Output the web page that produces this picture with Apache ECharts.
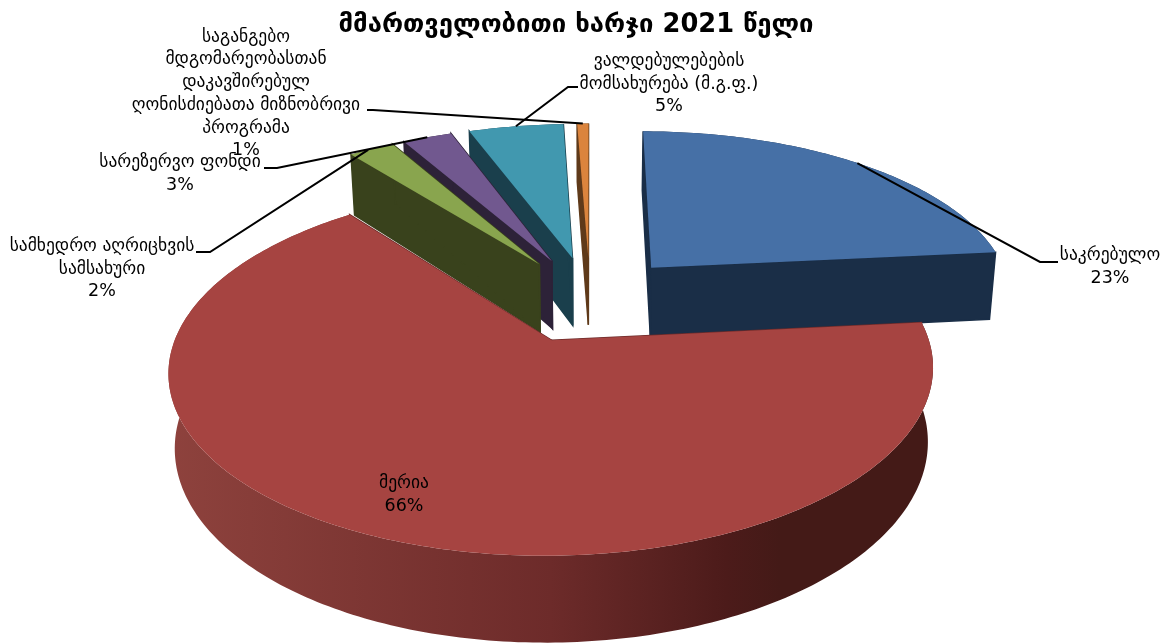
<!DOCTYPE html>
<html><head><meta charset="utf-8">
<style>html,body{margin:0;padding:0;background:#fff}#c{width:1167px;height:644px}</style>
<script src="https://cdn.jsdelivr.net/npm/echarts@6/dist/echarts.min.js"></script>
</head><body><div id="c"></div>
<script>
const categories = ['საკრებულო','მერია','სამხედრო აღრიცხვის\nსამსახური','სარეზერვო ფონდი','ვალდებულებების\nმომსახურება (მ.გ.ფ.)','საგანგებო\nმდგომარეობასთან\nდაკავშირებულ\nღონისძიებათა მიზნობრივი\nპროგრამა'];
const values = [23.4,66.0,2.4,2.6,5.0,0.6];
const percentLabels = ['23%','66%','2%','3%','5%','1%'];
const topColors = ['#4670a6','#a64441','#89a54e','#71588f','#4198af','#db843d'];
const wallColors = ['#1a2e47','#6d2b2a','#39421c','#2d2238','#1a3f4c','#5f3a1a'];
const depthRank = [5,6,4,3,2,1];            // painter's order of each slice
const labelAt = [[1110,267],[404,495],[102,269],[180,174],[669,84],[246,94]];
const leaderKnee = [[[1058,262],[1040,262]],null,[[196,252],[210,252]],[[264,168],[277,168]],[[578,87],[568,87]],[[367,110],[373,110]]];
const leaderAlong = [0.5,0,0.42,0.5,0.5,0.5];   // where on the outer arc each leader lands

const VIEW = {cx:590, cy:299, f:2310, t:0.46, R:363, explode:94, h:70, k:0.985};
const total = values.reduce((a,b)=>a+b,0);
function project(X,Z,low){
  const s = VIEW.f/(VIEW.f-Z);
  return [VIEW.cx + X*s*(low?VIEW.k:1), VIEW.cy + Z*VIEW.t*s + (low?VIEW.h*s:0)];
}
function sliceGeom(i){
  let a0=0; for(let j=0;j<i;j++) a0+=values[j]/total*2*Math.PI;
  const a1=a0+values[i]/total*2*Math.PI, mid=(a0+a1)/2;
  const ox=Math.sin(mid)*VIEW.explode, oz=-Math.cos(mid)*VIEW.explode;
  const P=(a,r,low)=>project(ox+Math.sin(a)*r, oz-Math.cos(a)*r, low);
  return {a0,a1,P};
}
function arc(g,low){
  const n=Math.max(6,Math.ceil((g.a1-g.a0)*60)), pts=[];
  for(let k=0;k<=n;k++) pts.push(g.P(g.a0+(g.a1-g.a0)*k/n,VIEW.R,low));
  return pts;
}
function renderItem(params,api){
  const i=params.dataIndex, g=sliceGeom(i), R=VIEW.R, z=depthRank[i]*10;
  const upper=arc(g,false), lower=arc(g,true);
  const wall = i===1 ? {type:'linear',x:0,y:0,x2:1,y2:0,colorStops:[
      {offset:0,color:'#8e423d'},{offset:.5,color:'#6d2b2a'},{offset:.73,color:'#4c1b1a'},{offset:.8,color:'#441a17'},{offset:1,color:'#441a17'}]} : wallColors[i];
  const kids=[
    {type:'polygon',z2:z,shape:{points:upper.concat(lower.slice().reverse())},style:{fill:wall}},
    {type:'polygon',z2:z+1,shape:{points:[g.P(g.a0,0,false),g.P(g.a0,R,false),g.P(g.a0,R,true),g.P(g.a0,0,true)]},style:{fill:wallColors[i],stroke:wallColors[i],lineWidth:1.5}},
    {type:'polygon',z2:z+1,shape:{points:[g.P(g.a1,0,false),g.P(g.a1,R,false),g.P(g.a1,R,true),g.P(g.a1,0,true)]},style:{fill:wallColors[i],stroke:wallColors[i],lineWidth:1.5}},
    {type:'polygon',z2:z+2,shape:{points:[g.P(g.a0,0,false)].concat(upper)},style:{fill:topColors[i]}}
  ];
  if(leaderKnee[i]){
    const end=g.P(g.a0+(g.a1-g.a0)*leaderAlong[i],R,false);
    kids.push({type:'polyline',z2:100,shape:{points:leaderKnee[i].concat([end])},style:{stroke:'#000',lineWidth:2,fill:null}});
  }
  kids.push({type:'text',z2:110,x:labelAt[i][0],y:labelAt[i][1],style:{
    text:categories[i]+'\n'+percentLabels[i],align:'center',verticalAlign:'middle',
    font:'17.5px "DejaVu Sans"',fill:'#000',lineHeight:22.7}});
  return {type:'group',children:kids};
}
const chart=echarts.init(document.getElementById('c'),null,{renderer:'canvas'});
chart.setOption({
  animation:false,
  backgroundColor:'#fff',
  title:{text:'მმართველობითი ხარჯი 2021 წელი',left:571,top:7,textAlign:'center',
    textStyle:{fontFamily:'DejaVu Sans',fontWeight:'bold',fontSize:25.7,color:'#000'}},
  series:[{type:'custom',coordinateSystem:'none',renderItem,silent:true,
    data:values.map((v,i)=>({name:categories[i],value:[v]}))}]
});
</script></body></html>
